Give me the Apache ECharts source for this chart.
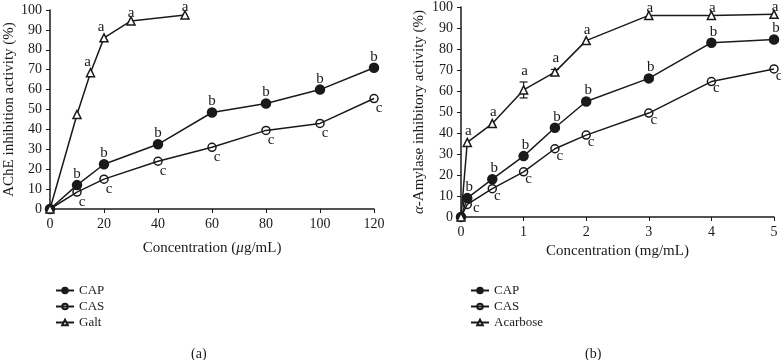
<!DOCTYPE html>
<html>
<head>
<meta charset="utf-8">
<script src="https://cdn.jsdelivr.net/npm/echarts@6/dist/echarts.min.js"></script>
<style>
  html, body { margin: 0; padding: 0; background: #fff; }
  #chart { width: 781px; height: 360px; }
</style>
</head>
<body>
<div id="chart"></div>
<script>
// (a) AChE inhibition
var achConc = [0, 10, 20, 40, 60, 80, 100, 120];
var achCAP = [0, 12, 22.5, 32.5, 48.5, 53, 60, 71];
var achCAS = [0, 8.5, 15, 24, 31, 39.5, 43, 55.5];
var galtConc = [0, 10, 15, 20, 30, 50];
var galtVal = [0, 47.5, 68.5, 86, 94.5, 97.5];
var achCAPLetters = ['', 'b', 'b', 'b', 'b', 'b', 'b', 'b'];
var achCASLetters = ['', 'c', 'c', 'c', 'c', 'c', 'c', 'c'];
var galtLetters = ['', '', 'a', 'a', 'a', 'a'];

// (b) alpha-amylase inhibition
var amyConc = [0, 0.1, 0.5, 1, 1.5, 2, 3, 4, 5];
var amyCAP = [0, 9, 18, 29, 42.5, 55, 66, 83, 84.5];
var amyCAS = [0, 6, 13.5, 21.5, 32.5, 39, 49.5, 64.5, 70.5];
var acarVal = [0, 35.5, 44.5, 60.5, 69, 84, 96, 96, 96.5];
var acarErr = [0, 0, 0, 3.8, 1.3, 0, 0, 0, 0];
var amyCAPLetters = ['', 'b', 'b', 'b', 'b', 'b', 'b', 'b', 'b'];
var amyCASLetters = ['', 'c', 'c', 'c', 'c', 'c', 'c', 'c', 'c'];
var acarLetters = ['', 'a', 'a', 'a', 'a', 'a', 'a', 'a', 'a'];

var font = 'Liberation Serif';
var black = '#1a1a1a';

// letters sit next to each marker, offset from its centre
function pts(xs, ys, letters, offsetFn) {
    return xs.map(function (x, i) {
        return {
            value: [x, ys[i]],
            label: letters[i]
                ? { show: true, position: 'inside', formatter: letters[i], offset: offsetFn(i) }
                : { show: false }
        };
    });
}

function lineSeries(name, xi, yi, data, symbol, fill, size) {
    return {
        name: name,
        type: 'line',
        xAxisIndex: xi,
        yAxisIndex: yi,
        data: data,
        symbol: symbol,
        symbolSize: size,
        showAllSymbol: true,
        lineStyle: { color: black, width: 1.5, type: 'solid' },
        itemStyle: { color: fill, borderColor: black, borderWidth: 1.5 },
        label: { color: black, fontFamily: font, fontSize: 15 },
        z: 3
    };
}

function axisCommon() {
    return {
        axisLine: { show: true, lineStyle: { color: black, width: 1.5 } },
        axisTick: { show: true, length: 4, lineStyle: { color: black } },
        axisLabel: { color: black, fontFamily: font, fontSize: 14 },
        splitLine: { show: false }
    };
}

var nameStyle = {
    color: black, fontFamily: font, fontSize: 15,
    rich: { i: { fontStyle: 'italic', fontFamily: font, fontSize: 15, color: black } }
};

var legendText = { color: black, fontFamily: font, fontSize: 13 };

var option = {
    animation: false,
    backgroundColor: '#fff',
    grid: [
        { left: 50, right: 407, top: 10, bottom: 151 },
        { left: 461, right: 7, top: 5, bottom: 143 }
    ],
    xAxis: [
        Object.assign(axisCommon(), {
            type: 'value', gridIndex: 0, min: 0, max: 120, interval: 20,
            name: 'Concentration ({i|μ}g/mL)', nameLocation: 'middle', nameGap: 32,
            nameTextStyle: nameStyle
        }),
        Object.assign(axisCommon(), {
            type: 'value', gridIndex: 1, min: 0, max: 5, interval: 1,
            name: 'Concentration (mg/mL)', nameLocation: 'middle', nameGap: 22,
            nameTextStyle: nameStyle
        })
    ],
    yAxis: [
        Object.assign(axisCommon(), {
            type: 'value', gridIndex: 0, min: 0, max: 100, interval: 10,
            name: 'AChE inhibition activity (%)', nameLocation: 'middle', nameGap: 33,
            nameTextStyle: nameStyle
        }),
        Object.assign(axisCommon(), {
            type: 'value', gridIndex: 1, min: 0, max: 100, interval: 10,
            name: '{i|α}-Amylase inhibitory activity (%)', nameLocation: 'middle', nameGap: 34,
            nameTextStyle: nameStyle
        })
    ],
    legend: [
        {
            data: ['CAP', 'CAS', 'Galt'],
            orient: 'vertical', left: 50, top: 279, itemGap: 3,
            itemWidth: 18, itemHeight: 7,
            textStyle: legendText
        },
        {
            data: ['CAP ', 'CAS ', 'Acarbose'],
            orient: 'vertical', left: 465, top: 279, itemGap: 3,
            itemWidth: 18, itemHeight: 7,
            textStyle: legendText
        }
    ],
    title: [
        { text: '(a)', left: 186, top: 342, textStyle: { color: black, fontFamily: font, fontSize: 14, fontWeight: 'normal' } },
        { text: '(b)', left: 580, top: 342, textStyle: { color: black, fontFamily: font, fontSize: 14, fontWeight: 'normal' } }
    ],
    series: [
        lineSeries('CAP', 0, 0, pts(achConc, achCAP, achCAPLetters, function () { return [0, -11]; }), 'circle', black, 9),
        lineSeries('CAS', 0, 0, pts(achConc, achCAS, achCASLetters, function () { return [5, 10]; }), 'circle', 'rgba(255,255,255,0)', 8),
        lineSeries('Galt', 0, 0, pts(galtConc, galtVal, galtLetters, function (i) {
            return galtVal[i] > 90 ? [0, -8] : [-3, -11];
        }), 'triangle', '#fff', 8),
        lineSeries('CAP ', 1, 1, pts(amyConc, amyCAP, amyCAPLetters, function () { return [2, -11]; }), 'circle', black, 9),
        lineSeries('CAS ', 1, 1, pts(amyConc, amyCAS, amyCASLetters, function (i) {
            return amyConc[i] < 0.2 ? [9, 4] : [5, 7];
        }), 'circle', 'rgba(255,255,255,0)', 8),
        lineSeries('Acarbose', 1, 1, pts(amyConc, acarVal, acarLetters, function (i) {
            if (acarVal[i] > 90) return [1, -7];
            return [1, -11 - acarErr[i] * 2];
        }), 'triangle', '#fff', 8),
        {
            type: 'custom',
            xAxisIndex: 1, yAxisIndex: 1,
            z: 2,
            data: amyConc.map(function (x, i) { return [x, acarVal[i], acarErr[i]]; }).filter(function (d) { return d[2] > 0; }),
            renderItem: function (params, api) {
                var x = api.value(0), y = api.value(1), e = api.value(2);
                var hi = api.coord([x, y + e]);
                var lo = api.coord([x, y - e]);
                var style = { stroke: black, lineWidth: 1.2 };
                return {
                    type: 'group',
                    children: [
                        { type: 'line', shape: { x1: hi[0], y1: hi[1], x2: lo[0], y2: lo[1] }, style: style },
                        { type: 'line', shape: { x1: hi[0] - 4, y1: hi[1], x2: hi[0] + 4, y2: hi[1] }, style: style },
                        { type: 'line', shape: { x1: lo[0] - 4, y1: lo[1], x2: lo[0] + 4, y2: lo[1] }, style: style }
                    ]
                };
            }
        }
    ]
};

var chart = echarts.init(document.getElementById('chart'));
chart.setOption(option);
</script>
</body>
</html>
